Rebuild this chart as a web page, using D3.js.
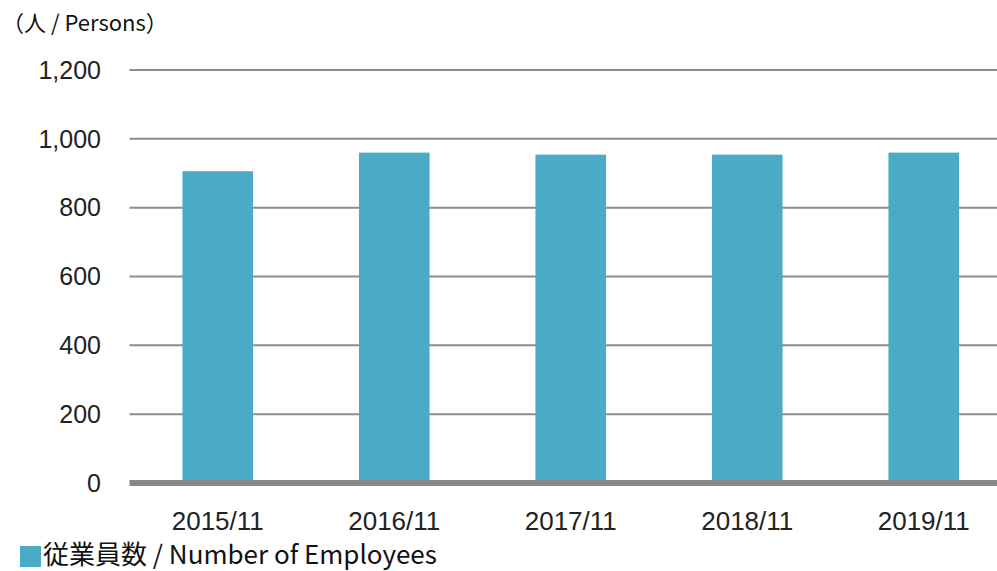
<!DOCTYPE html>
<html>
<head>
<meta charset="utf-8">
<script src="https://cdn.jsdelivr.net/npm/d3@7"></script>
<style>
  body { margin: 0; background: #fff; }
  svg { display: block; }
</style>
</head>
<body>
<svg id="chart" width="997" height="571"></svg>
<script>
// data
var categories = ["2015/11", "2016/11", "2017/11", "2018/11", "2019/11"];
var employees = [906, 960, 954, 954, 960];
var yTicks = [0, 200, 400, 600, 800, 1000, 1200];
var unitLabel = "（人 / Persons）";
var seriesLabel = "従業員数 / Number of Employees";

var svg = d3.select("#chart");

var x = d3.scaleBand().domain(categories).range([129.5, 1012]).paddingInner(0.6).paddingOuter(0.3),
  y = d3.scaleLinear().domain([0, 1200]).range([483, 70]);

var cjk = "'Noto Sans CJK JP', 'Noto Sans', sans-serif";
var num = "'Liberation Sans', Arial, sans-serif";

// grid lines
svg.append("g")
  .selectAll("line")
  .data(yTicks.filter(function (d) { return d > 0; }))
  .enter().append("line")
  .attr("x1", 129.5)
  .attr("x2", 997)
  .attr("y1", function (d) { return y(d); })
  .attr("y2", function (d) { return y(d); })
  .attr("stroke", "#8c8c8c")
  .attr("stroke-width", 2);

// y labels
svg.append("g")
  .selectAll("text")
  .data(yTicks)
  .enter().append("text")
  .attr("x", 101)
  .attr("y", function (d) { return y(d); })
  .attr("dy", "0.35em")
  .attr("text-anchor", "end")
  .attr("font-family", num)
  .attr("font-size", 25)
  .attr("fill", "#222")
  .text(function (d) { return d3.format(",")(d); });

// bars
svg.append("g")
  .selectAll("rect")
  .data(employees)
  .enter().append("rect")
  .attr("x", function (d, i) { return x(categories[i]); })
  .attr("y", function (d) { return y(d); })
  .attr("width", x.bandwidth())
  .attr("height", function (d) { return y(0) - y(d); })
  .attr("fill", "#4aabc6");

// zero axis line
svg.append("line")
  .attr("x1", 129.5)
  .attr("x2", 997)
  .attr("y1", y(0))
  .attr("y2", y(0))
  .attr("stroke", "#878787")
  .attr("stroke-width", 6);

// x labels
svg.append("g")
  .selectAll("text")
  .data(categories)
  .enter().append("text")
  .attr("x", function (d) { return x(d) + x.bandwidth() / 2; })
  .attr("y", 530)
  .attr("text-anchor", "middle")
  .attr("font-family", num)
  .attr("font-size", 26)
  .attr("fill", "#222")
  .text(function (d) { return d; });

// unit label
svg.append("text")
  .attr("x", 2)
  .attr("y", 31)
  .attr("font-family", cjk)
  .attr("font-size", 22)
  .attr("fill", "#111")
  .text(unitLabel);

// legend
svg.append("rect")
  .attr("x", 20)
  .attr("y", 546)
  .attr("width", 21)
  .attr("height", 21)
  .attr("fill", "#4aabc6");

svg.append("text")
  .attr("x", 43)
  .attr("y", 564)
  .attr("font-family", cjk)
  .attr("font-size", 26)
  .attr("fill", "#111")
  .text(seriesLabel);
</script>
</body>
</html>
